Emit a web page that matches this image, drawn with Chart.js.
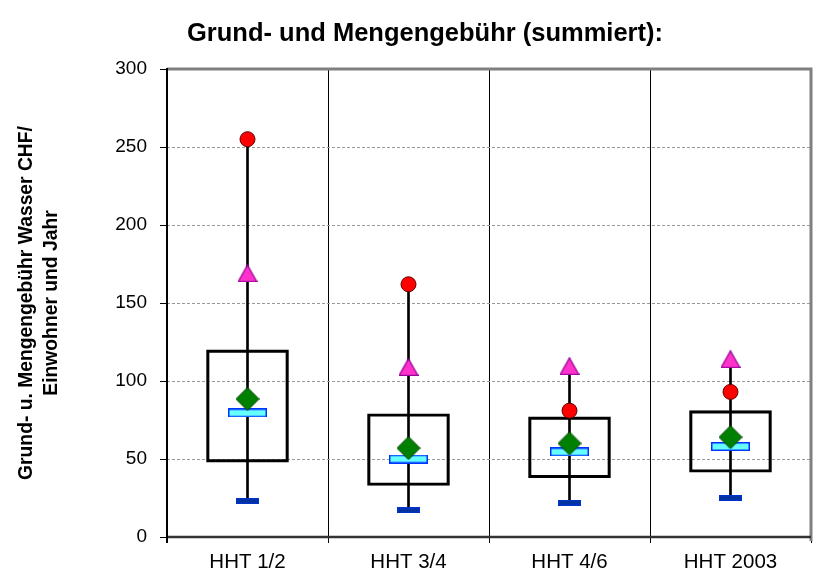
<!DOCTYPE html>
<html>
<head>
<meta charset="utf-8">
<script src="https://cdn.jsdelivr.net/npm/chart.js@4.4.1/dist/chart.umd.min.js"></script>
<style>
  body { margin: 0; background: #fff; }
</style>
</head>
<body>
<canvas id="chart1" width="822" height="572"></canvas>
<script>
var kategoriat = ['HHT 1/2', 'HHT 3/4', 'HHT 4/6', 'HHT 2003'];
var minimi = [23, 17, 22, 25];
var q1 = [48, 33, 38, 41.5];
var mediaani = [79.5, 50, 54.5, 58];
var keskiarvo = [88.5, 57, 60, 64];
var q3 = [120, 79, 77, 81];
var p90 = [169, 109, 109.5, 114];
var maksimi = [255, 162, 81, 93];
var yTicks = [0, 50, 100, 150, 200, 250, 300];

var fontti = "'Liberation Sans', Arial, sans-serif";

// small canvas markers for the point styles
function laatikko(w, h, fill, stroke) {
    var c = document.createElement('canvas');
    c.width = w; c.height = h;
    var g = c.getContext('2d');
    g.fillStyle = fill;
    g.fillRect(0, 0, w, h);
    g.strokeStyle = stroke;
    g.lineWidth = 1.5;
    g.strokeRect(0.75, 0.75, w - 1.5, h - 1.5);
    return c;
}

function vinoneliö(s, fill, stroke) {
    var c = document.createElement('canvas');
    c.width = s; c.height = s;
    var g = c.getContext('2d');
    var m = s / 2;
    g.beginPath();
    g.moveTo(m, 0.5); g.lineTo(s - 0.5, m); g.lineTo(m, s - 0.5); g.lineTo(0.5, m);
    g.closePath();
    g.fillStyle = fill; g.fill();
    g.strokeStyle = stroke; g.lineWidth = 1; g.stroke();
    return c;
}

function kolmio(w, h, fill, stroke) {
    var c = document.createElement('canvas');
    c.width = w; c.height = h;
    var g = c.getContext('2d');
    g.beginPath();
    g.moveTo(w / 2, 0.7); g.lineTo(w - 0.7, h - 0.7); g.lineTo(0.7, h - 0.7);
    g.closePath();
    g.fillStyle = fill; g.fill();
    g.strokeStyle = stroke; g.lineWidth = 1.3; g.stroke();
    return c;
}

var viiksi = minimi.map(function (v, i) { return [v, Math.max(maksimi[i], p90[i])]; });
var laatikot = q1.map(function (v, i) { return [v, q3[i]]; });

var kehys = {
    id: 'kehys',
    afterLayout: function (chart) {
        // title in the original sits a bit right of the canvas centre
        chart.titleBlock.left = 39;
    },
    beforeDatasetsDraw: function (chart) {
        var a = chart.chartArea;
        var ctx = chart.ctx;
        ctx.save();
        ctx.strokeStyle = '#808080';
        ctx.lineWidth = 3;
        ctx.beginPath();
        ctx.moveTo(a.left, a.top);
        ctx.lineTo(a.right, a.top);
        ctx.lineTo(a.right, a.bottom + 4);
        ctx.stroke();
        ctx.strokeStyle = '#333';
        ctx.lineWidth = 2.5;
        ctx.beginPath();
        ctx.moveTo(a.left, a.bottom);
        ctx.lineTo(a.right, a.bottom);
        ctx.stroke();
        ctx.strokeStyle = '#000';
        ctx.lineWidth = 2;
        ctx.beginPath();
        ctx.moveTo(a.left, a.top - 1);
        ctx.lineTo(a.left, a.bottom + 6);
        ctx.stroke();
        ctx.restore();
    }
};

function pisteet(data, tyyli, order, extra) {
    var d = {
        type: 'line',
        data: data,
        showLine: false,
        pointStyle: tyyli,
        pointRadius: 10,
        order: order
    };
    for (var k in extra) d[k] = extra[k];
    return d;
}

var chart1 = document.getElementById('chart1');
new Chart(chart1, {
    type: 'bar',
    data: {
        labels: kategoriat,
        datasets: [{
            data: viiksi,
            backgroundColor: '#000',
            borderWidth: 0,
            barThickness: 2,
            grouped: false,
            order: 10
        }, {
            data: laatikot,
            backgroundColor: 'rgba(0,0,0,0)',
            borderColor: '#000',
            borderWidth: 2.5,
            borderSkipped: false,
            barThickness: 82,
            grouped: false,
            order: 9
        },
        pisteet(minimi, laatikko(23, 6, '#003399', '#0033CC'), 6, {}),
        pisteet(mediaani, laatikko(39, 9, '#66FFFF', '#0033FF'), 5, {}),
        pisteet(keskiarvo, vinoneliö(24, '#008000', '#004000'), 4, {}),
        pisteet(p90, kolmio(20, 18, '#FF33CC', '#990099'), 3, {}),
        pisteet(maksimi, 'circle', 2, {
            pointRadius: 7.5,
            pointBackgroundColor: '#FF0000',
            pointBorderColor: '#600000',
            pointBorderWidth: 1
        })]
    },
    options: {
        responsive: false,
        animation: false,
        layout: { padding: { top: 0, right: 11, bottom: 0, left: 0 } },
        plugins: {
            legend: { display: false },
            tooltip: { enabled: false },
            title: {
                display: true,
                text: 'Grund- und Mengengebühr (summiert):',
                color: '#000',
                font: { family: fontti, size: 25.5, weight: 'bold', lineHeight: 1.2 },
                padding: { top: 19, bottom: 19.4 }
            }
        },
        scales: {
            x: {
                offset: true,
                grid: { offset: true, color: '#000', lineWidth: 1, tickLength: 6, tickColor: '#000' },
                border: { display: false },
                ticks: { color: '#000', padding: 8, font: { family: fontti, size: 20.5, lineHeight: 1.1 } },
                afterFit: function (s) { s.height = 35; }
            },
            y: {
                min: 0,
                max: 300,
                afterBuildTicks: function (s) { s.ticks = yTicks.map(function (v) { return { value: v }; }); },
                grid: { color: '#9a9a9a', lineWidth: 1, tickLength: 7, tickColor: '#000', tickBorderDash: [] },
                border: { display: false, dash: [3, 2] },
                ticks: { color: '#000', padding: 13, font: { family: fontti, size: 19 } },
                title: {
                    display: true,
                    text: ['Grund- u. Mengengebühr Wasser CHF/', 'Einwohner und Jahr'],
                    color: '#000',
                    font: { family: fontti, size: 19.3, weight: 'bold', lineHeight: 1.25 },
                    padding: { top: 15, bottom: 0 }
                },
                afterFit: function (s) { s.width = 167; }
            }
        }
    },
    plugins: [kehys]
});
</script>
</body>
</html>
